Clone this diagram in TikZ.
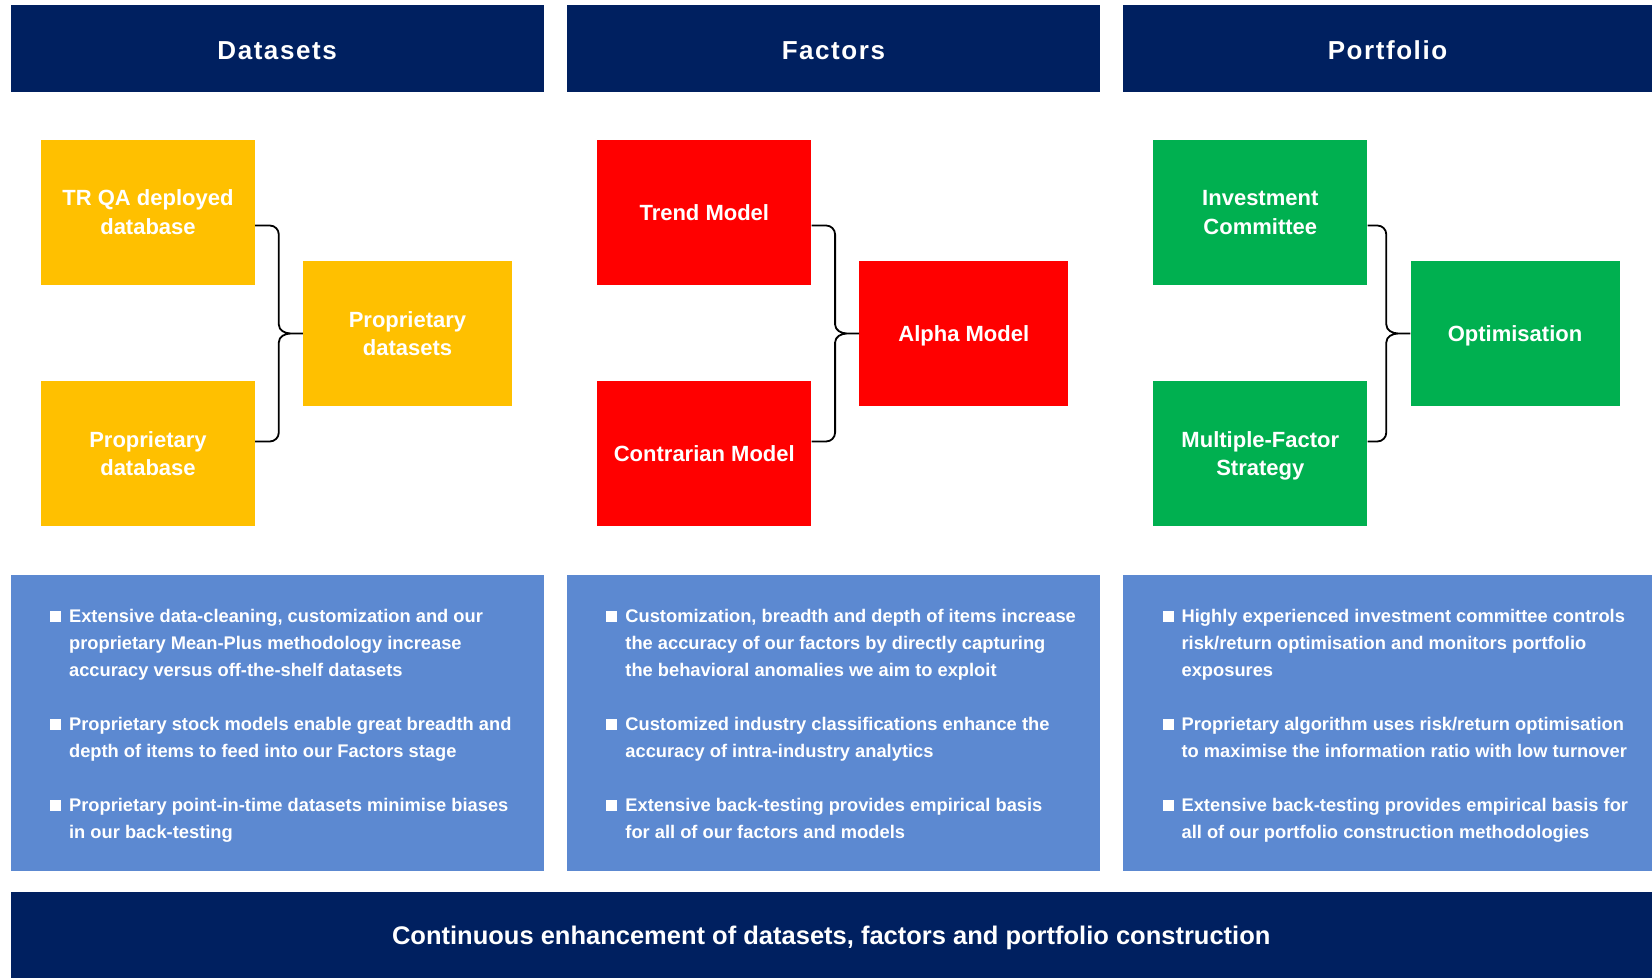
\documentclass[tikz,border=0pt]{standalone}
\usepackage{fontspec}
\setmainfont{Liberation Sans}
\usetikzlibrary{calc}

\definecolor{navy}{RGB}{0,32,96}
\definecolor{amber}{RGB}{255,192,0}
\definecolor{signal}{RGB}{255,0,0}
\definecolor{leaf}{RGB}{0,176,80}
\definecolor{slate}{RGB}{92,137,209}

% hanging square bullet
\newcommand{\sqb}{\llap{\rule{11pt}{11pt}\hspace{8pt}}}

\begin{document}
\begin{tikzpicture}
	[x=1pt,y=1pt,every node/.style={inner sep=0pt,text=white,font=\bfseries},
	head/.style={fill=navy,minimum height=86.4pt,text height=23pt,text depth=0pt,
		font=\fontsize{26}{30}\selectfont\bfseries\addfontfeature{LetterSpace=6}},
	stage/.style={minimum width=214pt,minimum height=145pt,align=center,
		font=\fontsize{22}{28.5}\selectfont\bfseries},
	result/.style={stage,minimum width=209pt},
	flat/.style={text depth=0pt},
	panel/.style={fill=slate,minimum width=533.2pt,minimum height=296pt},
	notes/.style={align=left,font=\fontsize{18.3}{27}\selectfont\bfseries},
	curly/.style={draw=black,line width=1.8pt,text=black}]
	\useasboundingbox (0,0) rectangle (1652,978);

	% column headers
	\node[head,minimum width=533.2pt] (h1) at (277.1,929.5) {Datasets};
	\node[head,minimum width=533.2pt] (h2) at (833.4,929.5) {Factors};
	\node[head,minimum width=529pt] (h3) at (1387.5,929.5) {Portfolio};

	% datasets
	\node[stage,fill=amber] (trqa) at (148,765.7) {TR QA deployed\\database};
	\node[stage,fill=amber] (propdb) at (148,524.5) {Proprietary\\database};
	\node[result,fill=amber] (propds) at (407.5,644.5) {Proprietary\\datasets};

	% factors
	\node[stage,flat,fill=signal] (trend) at (704.3,765.7) {Trend Model};
	\node[stage,flat,fill=signal] (contra) at (704.3,524.5) {Contrarian Model};
	\node[result,flat,fill=signal] (alpha) at (963.8,644.5) {Alpha Model};

	% portfolio
	\node[stage,fill=leaf] (invcom) at (1260.3,765.7) {Investment\\Committee};
	\node[stage,flat,fill=leaf] (mfs) at (1260.3,524.5) {Multiple-Factor\\Strategy};
	\node[result,flat,fill=leaf] (optim) at (1515,644.5) {Optimisation};

	\foreach \topNode/\lowNode/\endNode in {trqa/propdb/propds, trend/contra/alpha, invcom/mfs/optim}
	{
		\coordinate (bt) at ($(\endNode.west)+(-24,108)$);
		\coordinate (bb) at ($(\endNode.west)+(-24,-108)$);
		\draw[curly] (\topNode.east |- bt) -- ($(bt)+(-9,0)$) to[out=0,in=90] ($(bt)+(0,-9)$)
			-- ($(\endNode.west)+(-24,9)$) to[out=-90,in=180] ($(\endNode.west)+(-12,0)$)
			-- (\endNode.west) -- ($(\endNode.west)+(-12,0)$)
			to[out=180,in=90] ($(\endNode.west)+(-24,-9)$)
			-- ($(bb)+(0,9)$) to[out=-90,in=0] ($(bb)+(-9,0)$) -- (\lowNode.east |- bb);
	};

	% notes
	\node[panel] (p1) at (277.1,255) {};
	\node[panel] (p2) at (833.4,255) {};
	\node[panel,minimum width=529pt] (p3) at (1387.5,255) {};

	\node[notes,anchor=base west] (n1) at (68.9,139.7) {%
		\sqb Extensive data-cleaning, customization and our\\
		proprietary Mean-Plus methodology increase\\
		accuracy versus off-the-shelf datasets\\[27pt]
		\sqb Proprietary stock models enable great breadth and\\
		depth of items to feed into our Factors stage\\[27pt]
		\sqb Proprietary point-in-time datasets minimise biases\\
		in our back-testing};
	\node[notes,anchor=base west] (n2) at (625.2,139.7) {%
		\sqb Customization, breadth and depth of items increase\\
		the accuracy of our factors by directly capturing\\
		the behavioral anomalies we aim to exploit\\[27pt]
		\sqb Customized industry classifications enhance the\\
		accuracy of intra-industry analytics\\[27pt]
		\sqb Extensive back-testing provides empirical basis\\
		for all of our factors and models};
	\node[notes,anchor=base west] (n3) at (1181.4,139.7) {%
		\sqb Highly experienced investment committee controls\\
		risk/return optimisation and monitors portfolio\\
		exposures\\[27pt]
		\sqb Proprietary algorithm uses risk/return optimisation\\
		to maximise the information ratio with low turnover\\[27pt]
		\sqb Extensive back-testing provides empirical basis for\\
		all of our portfolio construction methodologies};

	% footer
	\node[fill=navy,minimum width=1641.5pt,minimum height=86pt,text depth=0pt,
		font=\fontsize{25.5}{30}\selectfont\bfseries] (foot) at (831.25,43)
		{Continuous enhancement of datasets, factors and portfolio construction};
\end{tikzpicture}
\end{document}
